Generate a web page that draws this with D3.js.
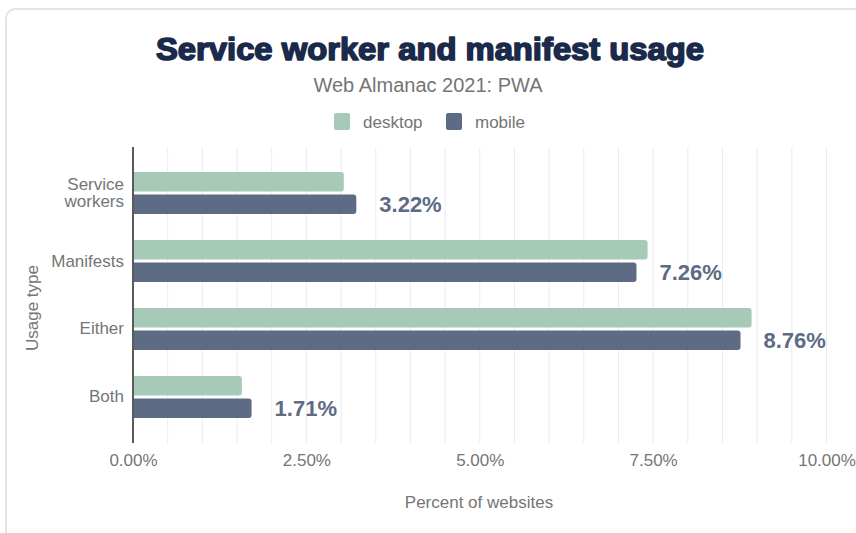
<!DOCTYPE html>
<html>
<head>
<meta charset="utf-8">
<script src="https://cdn.jsdelivr.net/npm/d3@7"></script>
<style>
  html, body { margin: 0; padding: 0; background: #fff; }
  svg { display: block; font-family: "Liberation Sans", Arial, Helvetica, sans-serif; }
</style>
</head>
<body>
<svg id="chart" width="856" height="533"></svg>
<script>
const categories = ["Service workers", "Manifests", "Either", "Both"];
const categoryLines = [["Service", "workers"], ["Manifests"], ["Either"], ["Both"]];
const seriesNames = ["desktop", "mobile"];
const desktopValues = [3.04, 7.42, 8.92, 1.57];
const mobileValues = [3.22, 7.26, 8.76, 1.71];
const xTickValues = [0, 2.5, 5, 7.5, 10];
const gridValues = d3.range(0, 10.01, 0.5);
const titleText = "Service worker and manifest usage";
const subtitleText = "Web Almanac 2021: PWA";
const xAxisTitle = "Percent of websites";
const yAxisTitle = "Usage type";

const colors = { desktop: "#a7c9b8", mobile: "#5d6b84" };
const seriesData = { desktop: desktopValues, mobile: mobileValues };

const svg = d3.select("#chart");

// card
svg.append("rect")
  .attr("x", 6).attr("y", 9).attr("width", 880).attr("height", 560)
  .attr("rx", 9).attr("fill", "#fff")
  .attr("stroke", "#e4e4e4").attr("stroke-width", 2);

const x = d3.scaleLinear().domain([0, 10]).range([133, 826.5]);
const y = d3.scaleBand().domain(categories).range([147, 443])
  .paddingInner(0.382).paddingOuter(0.3675);
const ySub = d3.scaleBand().domain(seriesNames).range([0, y.bandwidth()]).paddingInner(0.135);

// gridlines
svg.append("g").selectAll("line").data(gridValues.filter(d => d > 0)).join("line")
  .attr("x1", d => x(d)).attr("x2", d => x(d))
  .attr("y1", 147).attr("y2", 443)
  .attr("stroke", "#ececec").attr("stroke-width", 1);

// bar path with rounded right corners
function barPath(x0, y0, w, h, r) {
  return `M${x0},${y0}H${x0 + w - r}Q${x0 + w},${y0} ${x0 + w},${y0 + r}` +
    `V${y0 + h - r}Q${x0 + w},${y0 + h} ${x0 + w - r},${y0 + h}H${x0}Z`;
}

// bars
const rows = categories.map((c, i) => ({ c, i }));
const groups = svg.append("g").selectAll("g").data(rows).join("g")
  .attr("transform", d => `translate(0,${y(d.c)})`);
groups.selectAll("path").data(d => seriesNames.map(s => ({ s, v: seriesData[s][d.i] }))).join("path")
  .attr("d", d => barPath(x(0), ySub(d.s), x(d.v) - x(0), ySub.bandwidth(), 3))
  .attr("fill", d => colors[d.s]);

// value labels (mobile)
svg.append("g").selectAll("text").data(rows).join("text")
  .attr("x", d => x(mobileValues[d.i]) + 23)
  .attr("y", d => y(d.c) + ySub("mobile") + ySub.bandwidth() / 2)
  .attr("dy", "0.36em")
  .attr("font-size", 22).attr("font-weight", "bold")
  .attr("fill", colors.mobile)
  .text(d => d3.format(".2f")(mobileValues[d.i]) + "%");

// y axis line
svg.append("line")
  .attr("x1", x(0)).attr("x2", x(0)).attr("y1", 147).attr("y2", 443)
  .attr("stroke", "#5a5a5a").attr("stroke-width", 2);

// y tick labels
const yLabels = svg.append("g").selectAll("text").data(rows).join("text")
  .attr("text-anchor", "end")
  .attr("font-size", 17).attr("fill", "#757575");
yLabels.each(function(d) {
  const lines = categoryLines[d.i];
  const cy = y(d.c) + y.bandwidth() / 2;
  const lh = 16.5;
  const start = cy + 5.5 - (lines.length - 1) * lh / 2;
  d3.select(this).selectAll("tspan").data(lines).join("tspan")
    .attr("x", 124)
    .attr("y", (t, k) => start + k * lh)
    .text(t => t);
});

// x axis ticks labels
const xAxis = d3.axisBottom(x).tickValues(xTickValues)
  .tickFormat(d => d3.format(".2f")(d) + "%").tickSize(0).tickPadding(0);
const gx = svg.append("g").attr("transform", "translate(0,466)").call(xAxis);
gx.select(".domain").remove();
gx.selectAll("text").attr("dy", 0).attr("y", 0)
  .attr("font-size", 17).attr("fill", "#757575")
  .attr("font-family", "Liberation Sans, Arial, sans-serif");

// axis titles
svg.append("text").attr("x", 479).attr("y", 508).attr("text-anchor", "middle")
  .attr("font-size", 17).attr("fill", "#757575").text(xAxisTitle);
svg.append("text").attr("transform", "translate(38,308) rotate(-90)")
  .attr("text-anchor", "middle")
  .attr("font-size", 17).attr("fill", "#757575").text(yAxisTitle);

// title
svg.append("text").attr("x", 430).attr("y", 60).attr("text-anchor", "middle")
  .attr("font-size", 31).attr("font-weight", 900)
  .attr("fill", "#1b2a4a").attr("stroke", "#1b2a4a").attr("stroke-width", 1.6)
  .attr("stroke-linejoin", "round")
  .attr("textLength", 548).attr("lengthAdjust", "spacingAndGlyphs")
  .text(titleText);
svg.append("text").attr("x", 428).attr("y", 92).attr("text-anchor", "middle")
  .attr("font-size", 20).attr("fill", "#757575").text(subtitleText);

// legend
const legendX = { desktop: 334, mobile: 446 };
const legend = svg.append("g").selectAll("g").data(seriesNames).join("g")
  .attr("transform", s => `translate(${legendX[s]},113)`);
legend.append("rect").attr("width", 16).attr("height", 17).attr("rx", 2)
  .attr("fill", s => colors[s]);
legend.append("text").attr("x", 29).attr("y", 14.5)
  .attr("font-size", 17).attr("fill", "#757575").text(s => s);
</script>
</body>
</html>
